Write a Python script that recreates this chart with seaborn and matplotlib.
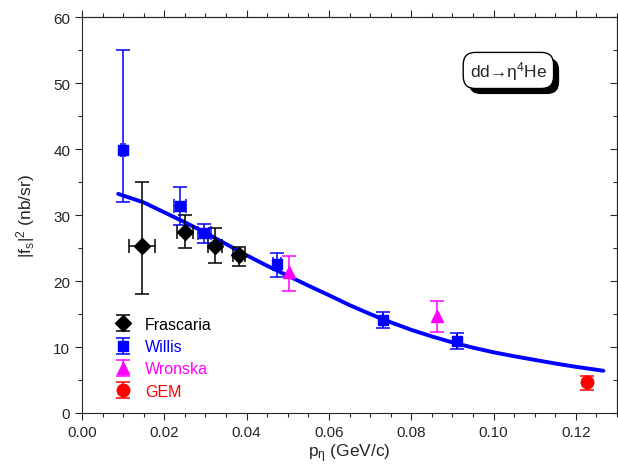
import matplotlib
matplotlib.use("Agg")
import matplotlib.pyplot as plt
import matplotlib.patheffects as pe
from matplotlib.ticker import MultipleLocator
import seaborn as sns
import pandas as pd
import numpy as np

# fitted curve
curve_p = [0.0088, 0.015, 0.020, 0.025, 0.030, 0.035, 0.040, 0.045, 0.050, 0.055,
           0.060, 0.065, 0.070, 0.075, 0.080, 0.085, 0.090, 0.095, 0.100, 0.105,
           0.110, 0.115, 0.120, 0.1267]
curve_f = [33.2, 31.9, 30.4, 28.9, 27.3, 25.6, 23.9, 22.3, 20.8, 19.3,
           17.85, 16.35, 15.0, 13.75, 12.6, 11.6, 10.7, 9.9, 9.2, 8.6,
           8.05, 7.5, 7.0, 6.4]

# Frascaria
fra_p = [0.0145, 0.0250, 0.0322, 0.0381]
fra_f = [25.3, 27.5, 25.35, 23.9]
fra_lo = [18.0, 25.05, 22.7, 22.3]
fra_hi = [34.95, 30.0, 28.0, 25.2]
fra_dp = [0.0032, 0.0020, 0.0017, 0.0015]

# Willis
wil_p = [0.0099, 0.0238, 0.0297, 0.0473, 0.0732, 0.0911]
wil_f = [39.85, 31.4, 27.2, 22.6, 14.1, 10.95]
wil_lo = [32.0, 28.5, 25.7, 20.6, 12.9, 9.7]
wil_hi = [55.0, 34.3, 28.6, 24.3, 15.25, 12.1]
wil_dp = [0.0005, 0.0015, 0.0016, 0.0010, 0.0, 0.0]

# Wronska
wro_p = [0.0503, 0.0862]
wro_f = [21.4, 14.65]
wro_lo = [18.5, 12.2]
wro_hi = [23.8, 16.9]

# GEM
gem_p = [0.1228]
gem_f = [4.65]
gem_lo = [3.5]
gem_hi = [5.65]

sns.set_style("ticks")
plt.rcParams['font.family'] = ['Liberation Sans', 'DejaVu Sans']
plt.rcParams['mathtext.default'] = 'regular'

fig = plt.figure(figsize=(6.18, 4.77), dpi=100)
ax = fig.add_axes([82 / 618, 63 / 477, 535 / 618, 396 / 477])

curve = pd.DataFrame({"p": curve_p, "f": curve_f})
sns.lineplot(data=curve, x="p", y="f", ax=ax, color="#0000ff", lw=2.8, zorder=3)


def yerr(f, lo, hi):
    f = np.array(f)
    return [f - np.array(lo), np.array(hi) - f]


series = [
    ("Frascaria", fra_p, fra_f, fra_lo, fra_hi, fra_dp, 'D', 'black', 8),
    ("Willis", wil_p, wil_f, wil_lo, wil_hi, wil_dp, 's', '#0000ff', 6.5),
    ("Wronska", wro_p, wro_f, wro_lo, wro_hi, None, '^', '#ff00ff', 8),
    ("GEM", gem_p, gem_f, gem_lo, gem_hi, None, 'o', '#ff0000', 9),
]
handles = []
for name, p, f, lo, hi, dp, mk, col, ms in series:
    ax.errorbar(p, f, yerr=yerr(f, lo, hi), xerr=dp, fmt=mk, color=col, ms=ms,
                capsize=5, elinewidth=1.1, capthick=1.1, zorder=5)
    # legend proxy: marker with vertical bar only
    h = ax.errorbar([np.nan], [np.nan], yerr=[1], fmt=mk, color=col, ms=ms,
                    capsize=5, elinewidth=1.1, capthick=1.1, label=name)
    handles.append(h)

ax.set_xlim(0, 0.13)
ax.set_ylim(0, 60)
ax.xaxis.set_major_locator(MultipleLocator(0.02))
ax.xaxis.set_minor_locator(MultipleLocator(0.005))
ax.yaxis.set_major_locator(MultipleLocator(10))
ax.yaxis.set_minor_locator(MultipleLocator(5))
ax.set_xticklabels([f"{v:.2f}" for v in ax.get_xticks()])
ax.tick_params(which='both', direction='out', labelsize=11, width=0.8)
ax.tick_params(which='major', length=5)
ax.tick_params(which='minor', length=3)
for sp in ax.spines.values():
    sp.set_linewidth(0.8)

# top axis ticks outward, right axis ticks inward, no labels
top = ax.secondary_xaxis('top')
top.xaxis.set_major_locator(MultipleLocator(0.02))
top.xaxis.set_minor_locator(MultipleLocator(0.005))
top.tick_params(which='both', direction='out', labeltop=False, width=0.8)
top.tick_params(which='major', length=5)
top.tick_params(which='minor', length=3)
right = ax.secondary_yaxis('right')
right.yaxis.set_major_locator(MultipleLocator(10))
right.yaxis.set_minor_locator(MultipleLocator(5))
right.tick_params(which='both', direction='in', labelright=False, width=0.8)
right.tick_params(which='major', length=5)
right.tick_params(which='minor', length=3)

ax.set_xlabel(r'p$_\eta$ (GeV/c)', fontsize=12.5, labelpad=2)
ax.set_ylabel(r'|f$_s$|$^2$ (nb/sr)', fontsize=12.5, labelpad=12)

leg = ax.legend(handles=handles, loc='lower left', bbox_to_anchor=(0.025, 0.0),
                frameon=False, fontsize=11.5, handlelength=1.6,
                labelspacing=0.45, handletextpad=0.6, labelcolor='linecolor')

t = ax.text(0.797, 0.865, 'dd→η$^4$He', transform=ax.transAxes,
            ha='center', va='center', fontsize=12.5,
            bbox=dict(boxstyle='round,pad=0.38,rounding_size=0.7',
                      fc='white', ec='black', lw=1.0))
t.get_bbox_patch().set_path_effects([
    pe.SimplePatchShadow(offset=(4, -4), shadow_rgbFace='black', alpha=1.0),
    pe.Normal()])

fig.savefig("out.png", dpi=100)
